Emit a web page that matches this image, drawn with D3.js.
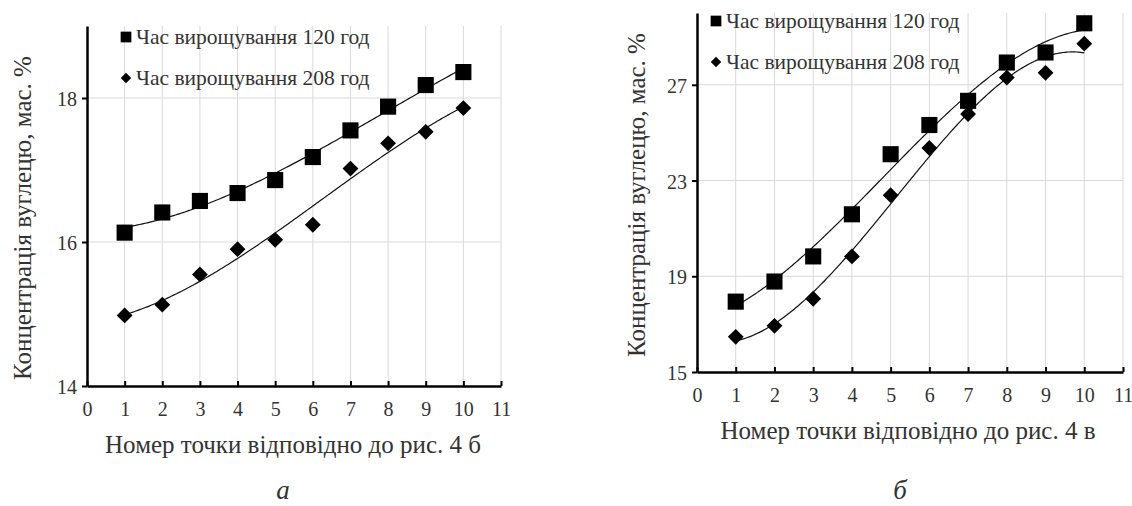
<!DOCTYPE html>
<html>
<head>
<meta charset="utf-8">
<script src="https://cdn.jsdelivr.net/npm/d3@7"></script>
<style>
  body { margin: 0; background: #fff; }
  svg text { font-family: "Liberation Serif", "DejaVu Serif", "Times New Roman", serif; fill: #333; }
</style>
</head>
<body>
<svg id="chart" width="1132" height="506"></svg>
<script>
// point numbers and measured carbon concentration, wt. %
var pointNo = [1, 2, 3, 4, 5, 6, 7, 8, 9, 10];
var a120 = [16.13, 16.41, 16.57, 16.68, 16.86, 17.18, 17.55, 17.88, 18.18, 18.36];
var a208 = [14.98, 15.13, 15.55, 15.90, 16.03, 16.24, 17.02, 17.37, 17.53, 17.86];
var b120 = [17.94, 18.78, 19.83, 21.59, 24.10, 25.32, 26.33, 27.93, 28.35, 29.57];
var b208 = [16.47, 16.93, 18.06, 19.83, 22.39, 24.36, 25.78, 27.30, 27.50, 28.72];

var xTicks = [0, 1, 2, 3, 4, 5, 6, 7, 8, 9, 10, 11];
var aYTicks = [14, 16, 18];
var bYTicks = [15, 19, 23, 27];

var legendNames = ["Час вирощування 120  год", "Час вирощування 208  год"];
var yTitle = "Концентрація вуглецю, мас. %";
var serif = "Liberation Serif, DejaVu Serif, serif";

var svg = d3.select("#chart");

// least squares polynomial, used for the trend lines
function polyfit(xs, ys, order) {
  var n = order + 1;
  var A = [];
  for (var i = 0; i < n; i++) {
    A.push([]);
    for (var j = 0; j < n; j++) A[i][j] = d3.sum(xs, x => Math.pow(x, i + j));
    A[i][n] = d3.sum(xs, (x, k) => ys[k] * Math.pow(x, i));
  }
  for (var c = 0; c < n; c++) {
    var p = c;
    for (var r = c + 1; r < n; r++) if (Math.abs(A[r][c]) > Math.abs(A[p][c])) p = r;
    var tmp = A[c]; A[c] = A[p]; A[p] = tmp;
    for (var r2 = 0; r2 < n; r2++) {
      if (r2 === c) continue;
      var f = A[r2][c] / A[c][c];
      for (var k = c; k <= n; k++) A[r2][k] -= f * A[c][k];
    }
  }
  return A.map((row, i) => row[n] / row[i]);
}

function drawPanel(cfg) {
  var x = d3.scaleLinear().domain([0, 11]).range([cfg.left, cfg.right]);
  var y = d3.scaleLinear().domain(cfg.yDomain).range([cfg.bottom, cfg.top]);
  var g = svg.append("g");

  // gridlines
  g.append("g").selectAll("line").data(xTicks.slice(1)).enter().append("line")
    .attr("x1", d => x(d)).attr("x2", d => x(d))
    .attr("y1", cfg.bottom).attr("y2", cfg.top)
    .attr("stroke", "#d9d9d9").attr("stroke-width", 1);
  g.append("g").selectAll("line").data(cfg.yTicks.slice(1)).enter().append("line")
    .attr("x1", cfg.left).attr("x2", cfg.right)
    .attr("y1", d => y(d)).attr("y2", d => y(d))
    .attr("stroke", "#d9d9d9").attr("stroke-width", 1);

  // axes
  var xAxis = d3.axisBottom(x).tickValues(xTicks).tickFormat(d3.format("d"))
    .tickSizeInner(-5).tickSizeOuter(0).tickPadding(16);
  var yAxis = d3.axisLeft(y).tickValues(cfg.yTicks).tickFormat(d3.format("d"))
    .tickSizeInner(5).tickSizeOuter(0).tickPadding(5);
  var gx = g.append("g").attr("transform", `translate(0,${cfg.bottom})`).call(xAxis);
  var gy = g.append("g").attr("transform", `translate(${cfg.left},0)`).call(yAxis);
  [gx, gy].forEach(function(a) {
    a.attr("font-family", serif).attr("font-size", 20);
    a.select(".domain").attr("stroke", "#000").attr("stroke-width", 2.5);
    a.selectAll(".tick line").attr("stroke", "#000").attr("stroke-width", 2);
    a.selectAll(".tick text").attr("fill", "#333");
  });
  gy.selectAll(".tick text").attr("dy", "0.38em");

  // trend lines
  var line = d3.line().x(d => x(d[0])).y(d => y(d[1]));
  cfg.series.forEach(function(s) {
    var c = polyfit(pointNo, s.values, s.order);
    var pts = d3.range(1, 10.001, 0.05).map(t => [t, d3.sum(c, (ci, i) => ci * Math.pow(t, i))]);
    g.append("path").datum(pts).attr("d", line)
      .attr("fill", "none").attr("stroke", "#111").attr("stroke-width", 1.2);
  });

  // markers
  var sq = d3.symbol().type(d3.symbolSquare).size(260);
  var dm = d3.symbol().type(d3.symbolDiamond2).size(160);
  cfg.series.forEach(function(s, si) {
    g.append("g").selectAll("path").data(pointNo).enter().append("path")
      .attr("d", si === 0 ? sq : dm)
      .attr("transform", (d, i) => `translate(${x(d)},${y(s.values[i])})`)
      .attr("fill", "#000");
  });

  // legend
  var lg = g.append("g");
  legendNames.forEach(function(name, i) {
    var ly = cfg.legendY + i * 41;
    lg.append("path")
      .attr("d", i === 0 ? d3.symbol().type(d3.symbolSquare).size(115)() : d3.symbol().type(d3.symbolDiamond2).size(70)())
      .attr("transform", `translate(${cfg.legendX},${ly})`)
      .attr("fill", "#000");
    lg.append("text").attr("x", cfg.legendX + 10).attr("y", ly + 7)
      .attr("font-family", serif).attr("font-size", 21.5).text(name);
  });

  // titles
  g.append("text")
    .attr("transform", `translate(${cfg.yTitleX},${cfg.yTitleY}) rotate(-90)`)
    .attr("text-anchor", "middle").attr("font-family", serif).attr("font-size", 25).text(yTitle);
  g.append("text").attr("x", cfg.xTitleX).attr("y", cfg.bottom + 67)
    .attr("text-anchor", "middle").attr("font-family", serif).attr("font-size", 25).text(cfg.xTitle);
  g.append("text").attr("x", cfg.letterX).attr("y", 499)
    .attr("text-anchor", "middle").attr("font-family", serif).attr("font-size", 27)
    .attr("font-style", "italic").attr("fill", "#111").text(cfg.letter);
}

drawPanel({
  left: 87, right: 501, top: 26, bottom: 386,
  yDomain: [14, 19], yTicks: aYTicks,
  series: [{ values: a120, order: 3 }, { values: a208, order: 3 }],
  legendX: 126, legendY: 37,
  yTitleX: 31, yTitleY: 218, xTitleX: 293, xTitle: "Номер точки відповідно  до рис. 4 б",
  letterX: 283, letter: "а"
});

drawPanel({
  left: 697, right: 1123, top: 13, bottom: 372,
  yDomain: [15, 30], yTicks: bYTicks,
  series: [{ values: b120, order: 3 }, { values: b208, order: 3 }],
  legendX: 716, legendY: 21,
  yTitleX: 645, yTitleY: 195, xTitleX: 908, xTitle: "Номер точки відповідно  до рис. 4 в",
  letterX: 900, letter: "б"
});
</script>
</body>
</html>
